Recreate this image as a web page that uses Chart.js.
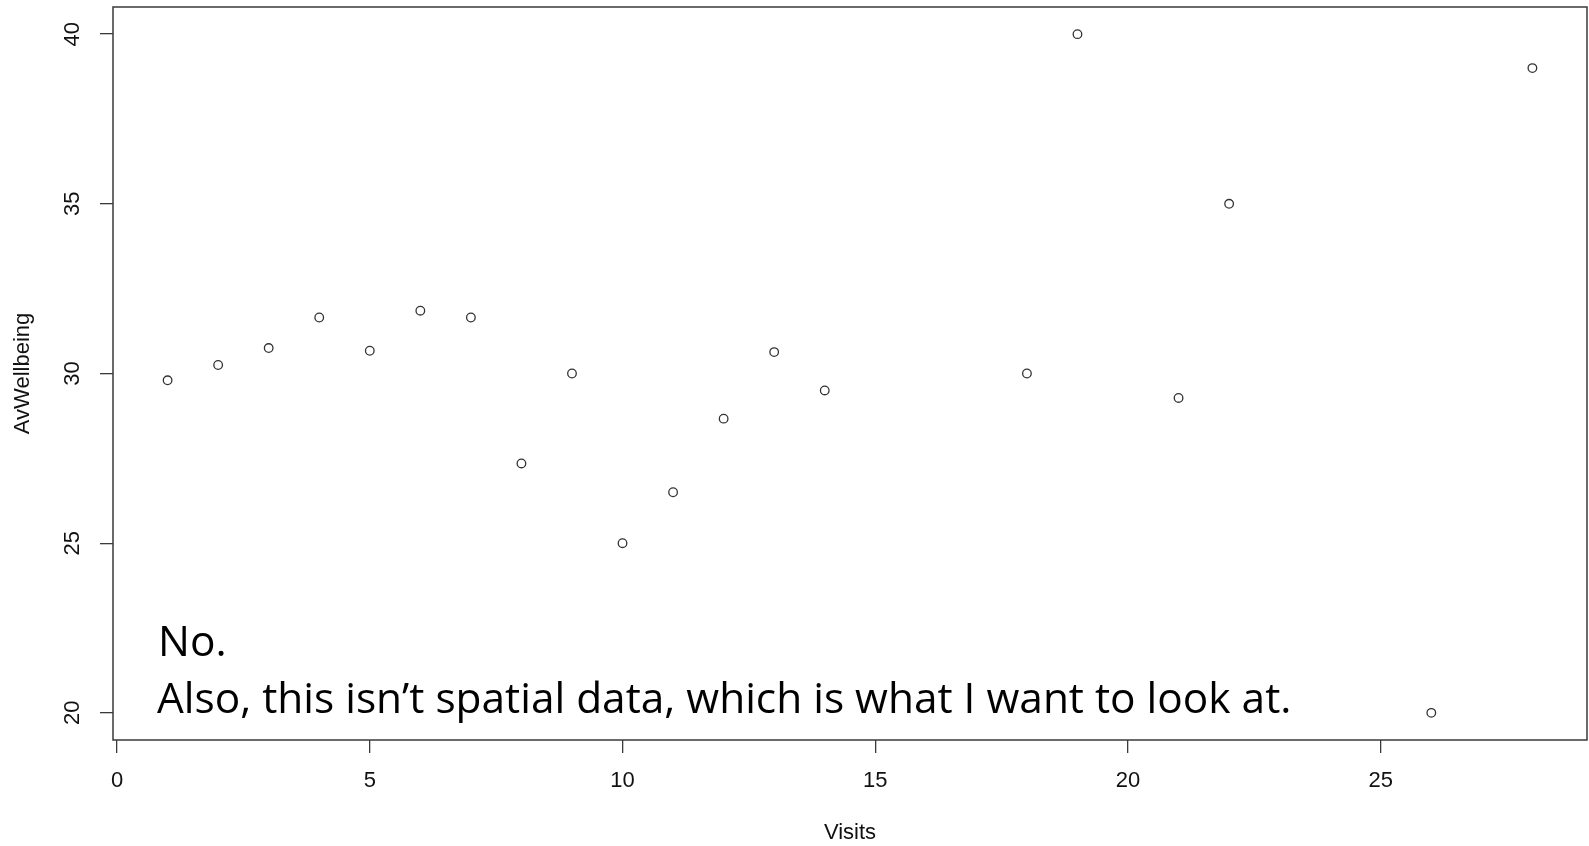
<!DOCTYPE html>
<html>
<head>
<meta charset="utf-8">
<script src="https://cdn.jsdelivr.net/npm/chart.js@4.4.1/dist/chart.umd.min.js"></script>
<style>
  html, body { margin: 0; padding: 0; background: #fff; }
  canvas { display: block; }
</style>
</head>
<body>
<canvas id="plot" width="1589" height="846"></canvas>
<script>
const visits = [1, 2, 3, 4, 5, 6, 7, 8, 9, 10, 11, 12, 13, 14, 18, 19, 21, 22, 26, 28];
const avWellbeing = [29.8, 30.25, 30.75, 31.65, 30.67, 31.85, 31.65, 27.35, 30, 25, 26.5, 28.67, 30.63, 29.5, 30, 40, 29.28, 35, 20, 39];
const xTicks = [0, 5, 10, 15, 20, 25];
const yTicks = [20, 25, 30, 35, 40];
const noteLines = ['No.', 'Also, this isn\u2019t spatial data, which is what I want to look at.'];

const axisFont = { family: '"Liberation Sans", Arial, sans-serif', size: 22 };
const ink = '#111';
const frame = '#3a3a3a';

// drop the label overhang chart.js adds round each axis
const noOverhang = s => {
    s.paddingLeft = 0; s.paddingRight = 0; s.paddingTop = 0; s.paddingBottom = 0;
};

// R style box round the plot region
const boxPlugin = {
    id: 'box',
    afterDraw(chart) {
        const { ctx, chartArea: a } = chart;
        ctx.save();
        ctx.strokeStyle = frame;
        ctx.lineWidth = 1.5;
        ctx.strokeRect(a.left, a.top, a.right - a.left, a.bottom - a.top);
        ctx.restore();
    }
};

// the slide text laid over the plot
const notePlugin = {
    id: 'note',
    afterDraw(chart) {
        const { ctx, chartArea: a } = chart;
        const family = '"Open Sans", "Noto Sans", sans-serif';
        ctx.save();
        ctx.font = `48px ${family}`;
        const size = 48 * 1135 / ctx.measureText(noteLines[1]).width;
        ctx.font = `${size.toFixed(1)}px ${family}`;
        ctx.fillStyle = '#000';
        ctx.textBaseline = 'alphabetic';
        ctx.fillText(noteLines[0], a.left + 45, a.bottom - 84);
        ctx.fillText(noteLines[1], a.left + 44, a.bottom - 27);
        ctx.restore();
    }
};

new Chart(document.getElementById('plot'), {
    type: 'scatter',
    data: {
        datasets: [{
            data: visits.map((v, i) => ({ x: v, y: avWellbeing[i] })),
            pointStyle: 'circle',
            pointRadius: 4.3,
            pointBorderWidth: 1.3,
            borderColor: '#333',
            backgroundColor: 'rgba(255,255,255,0)'
        }]
    },
    options: {
        responsive: false,
        devicePixelRatio: 1,
        animation: false,
        events: [],
        layout: { autoPadding: false, padding: { top: 7, right: 2, left: 0, bottom: 0 } },
        plugins: { legend: { display: false }, tooltip: { enabled: false } },
        scales: {
            x: {
                type: 'linear',
                min: -0.08,
                max: 29.08,
                afterBuildTicks: s => { s.ticks = xTicks.map(v => ({ value: v })); },
                afterFit: s => { s.height = 106; noOverhang(s); },
                border: { display: false },
                grid: { drawOnChartArea: false, drawTicks: true, tickLength: 13, color: frame, lineWidth: 1.3 },
                ticks: { color: ink, font: axisFont, padding: 15, maxRotation: 0, minRotation: 0 },
                title: { display: true, text: 'Visits', color: ink, font: axisFont, padding: { top: 0, bottom: 0 } }
            },
            y: {
                type: 'linear',
                min: 19.2,
                max: 40.8,
                afterBuildTicks: s => { s.ticks = yTicks.map(v => ({ value: v })); },
                afterFit: s => { s.width = 113; noOverhang(s); },
                border: { display: false },
                grid: { drawOnChartArea: false, drawTicks: true, tickLength: 13, color: frame, lineWidth: 1.3 },
                ticks: { color: ink, font: axisFont, padding: 15, minRotation: 90, maxRotation: 90, crossAlign: 'center' },
                title: { display: true, text: 'AvWellbeing', color: ink, font: axisFont, padding: { top: 10, bottom: 0 } }
            }
        }
    },
    plugins: [boxPlugin, notePlugin]
});
</script>
</body>
</html>
